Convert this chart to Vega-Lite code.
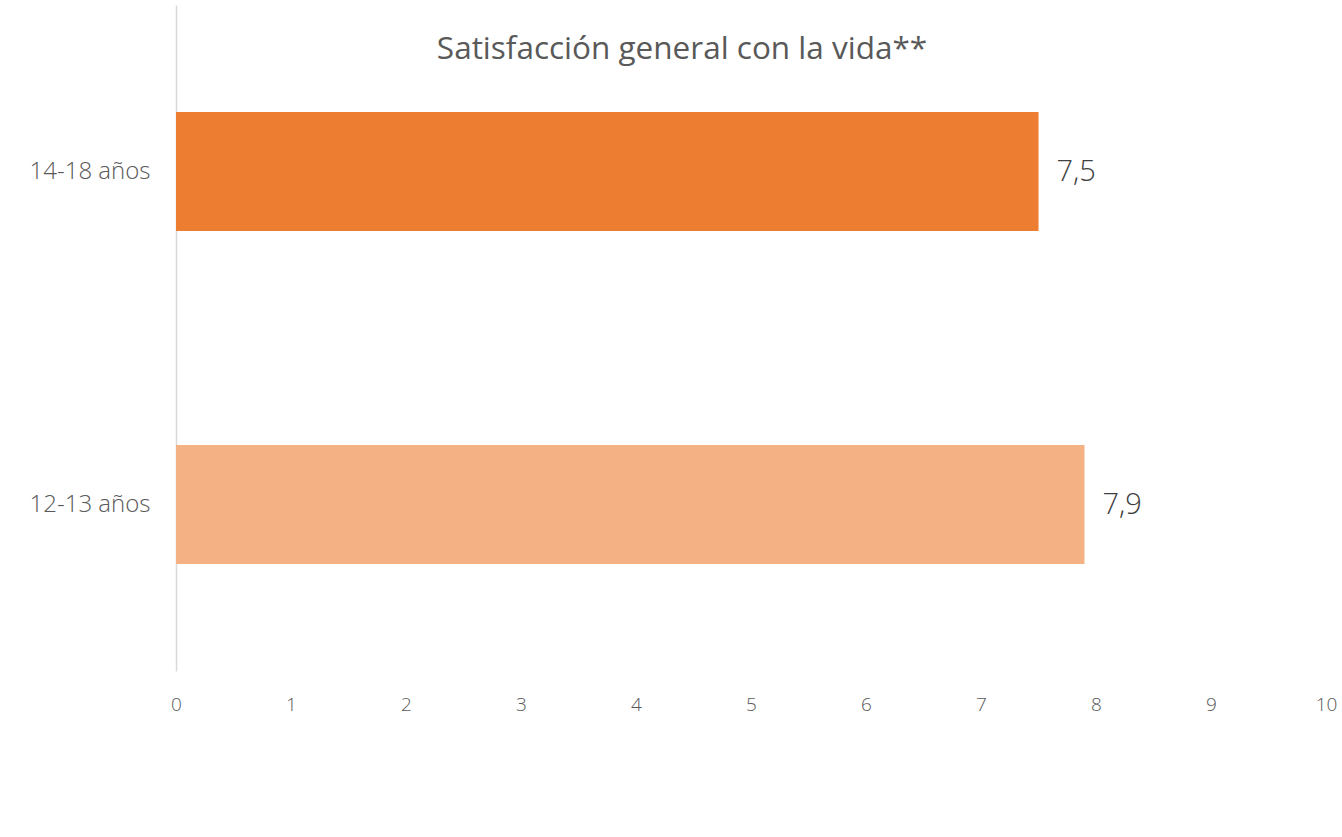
{
  "$schema": "https://vega.github.io/schema/vega-lite/v6.json",
  "autosize": {"type": "none"},
  "width": 1150,
  "height": 666,
  "padding": {"left": 176, "top": 5, "right": 16, "bottom": 166},
  "background": "white",
  "title": {
    "text": "Satisfacción general con la vida**",
    "anchor": "middle",
    "baseline": "alphabetic",
    "offset": -85,
    "dx": -69,
    "font": "Open Sans",
    "fontSize": 31.5,
    "fontWeight": "normal",
    "color": "#595959"
  },
  "config": {
    "view": {"stroke": null},
    "locale": {"number": {"decimal": ",", "thousands": ".", "grouping": [3], "currency": ["", " €"]}}
  },
  "data": {
    "values": [
      {"grupo": "14-18 años", "valor": 7.5},
      {"grupo": "12-13 años", "valor": 7.9}
    ]
  },
  "encoding": {
    "y": {
      "field": "grupo",
      "type": "nominal",
      "sort": ["14-18 años", "12-13 años"],
      "scale": {"paddingInner": 0.643, "paddingOuter": 0.3215},
      "axis": {
        "title": null,
        "domainColor": "#d9d9d9",
        "domainWidth": 1.5,
        "ticks": false,
        "labelPadding": 26,
        "labelFont": "Open Sans",
        "labelFontSize": 24,
        "labelColor": "#595959",
        "labelFontWeight": 300
      }
    },
    "x": {
      "field": "valor",
      "type": "quantitative",
      "scale": {"domain": [0, 10], "nice": false},
      "axis": {
        "title": null,
        "domain": false,
        "ticks": false,
        "grid": false,
        "values": [0,1,2,3,4,5,6,7,8,9,10],
        "labelPadding": 24,
        "labelFont": "Open Sans",
        "labelFontSize": 19,
        "labelColor": "#595959",
        "labelFontWeight": 300,
        "labelFlush": false
      }
    }
  },
  "layer": [
    {
      "mark": {"type": "bar"},
      "encoding": {
        "color": {
          "field": "grupo",
          "type": "nominal",
          "scale": {"domain": ["14-18 años", "12-13 años"], "range": ["#ED7D31", "#F4B183"]},
          "legend": null
        }
      }
    },
    {
      "mark": {"type": "text", "align": "left", "dx": 18, "font": "Open Sans", "fontSize": 29, "color": "#404040", "fontWeight": 300},
      "encoding": {
        "text": {"field": "valor", "type": "quantitative", "format": ".1f"}
      }
    }
  ]
}
